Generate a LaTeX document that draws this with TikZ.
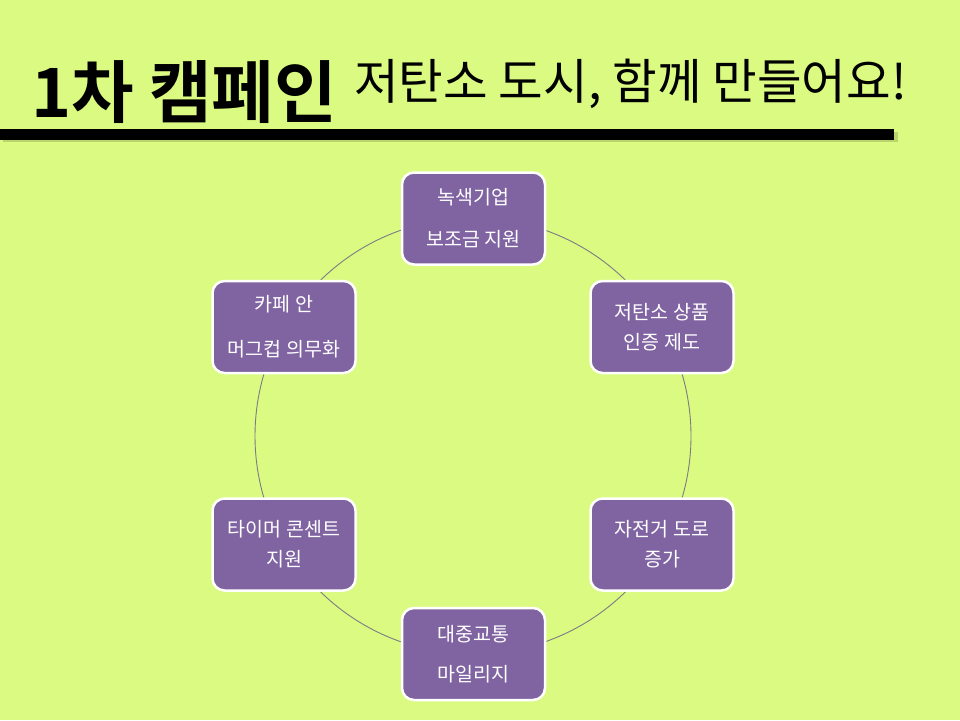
\documentclass[tikz,border=0pt]{standalone}
\usepackage{fontspec}
\usepackage{tikz}
\setmainfont{Noto Sans CJK KR}
\newfontfamily\headfont{Noto Sans CJK KR Bold}
\definecolor{lime1}{HTML}{DBFA82}
\definecolor{purple1}{HTML}{8064A2}
\definecolor{ring1}{HTML}{7C7C84}
\begin{document}
\begin{tikzpicture}[x=1pt,y=-1pt,
  stage/.style={draw=white,line width=2.5pt,fill=purple1,rounded corners=12pt,
    minimum width=143pt,minimum height=92pt,align=center,text=white,
    font=\fontsize{19.5}{30}\selectfont,inner sep=0pt}]
\fill[lime1] (0,0) rectangle (960,720);
% title
\node[anchor=base west,inner sep=0pt,font=\fontsize{68}{70}\headfont] (t1) at (31,117) {1차 캠페인};
\node[anchor=base west,inner sep=0pt,font=\fontsize{48.5}{50}\selectfont] (t2) at (354,99) {저탄소 도시, 함께 만들어요!};
\fill[black,opacity=0.15] (3,132) rectangle (898,142);
\fill[black] (0,129) rectangle (894,140);
% ring
\coordinate (c) at (473,436);
\draw[ring1,line width=0.9pt] (c) circle (218);
% stages
\node[stage] (top) at (473.5,218.5) {녹색기업\\[12pt]보조금 지원};
\node[stage] (rt) at (662,327) {저탄소 상품\\인증 제도};
\node[stage] (rb) at (662,544.5) {자전거 도로\\증가};
\node[stage] (bot) at (473.5,654) {대중교통\\[10pt]마일리지};
\node[stage] (lb) at (284,544.5) {타이머 콘센트\\지원};
\node[stage] (lt) at (284,327) {카페 안\\[15pt]머그컵 의무화};
\end{tikzpicture}
\end{document}
